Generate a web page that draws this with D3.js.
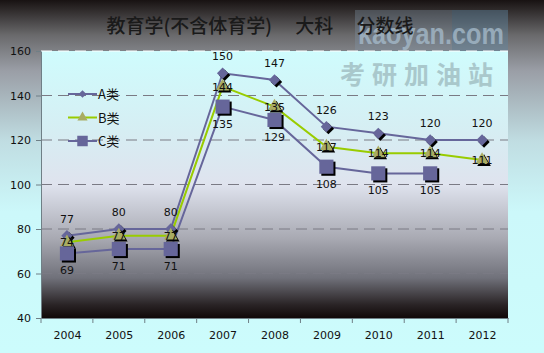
<!DOCTYPE html>
<html>
<head>
<meta charset="utf-8">
<script src="https://cdn.jsdelivr.net/npm/d3@7"></script>
<style>
  body { margin: 0; background: #ccfcfc; }
  svg { display: block; }
</style>
</head>
<body>
<div id="chart"></div>
<script>
// score lines by year
const years = ["2004", "2005", "2006", "2007", "2008", "2009", "2010", "2011", "2012"];
const seriesA = [77, 80, 80, 150, 147, 126, 123, 120, 120];
const seriesB = [74, 77, 77, 144, 135, 117, 114, 114, 111];
const seriesC = [69, 71, 71, 135, 129, 108, 105, 105, null];
const seriesNames = ["A类", "B类", "C类"];
const yTicks = [40, 60, 80, 100, 120, 140, 160];
const titleText = "教育学(不含体育学)\u3000 大科 \u3000分数线";

const W = 544, H = 353;
const plot = { left: 41, right: 508, top: 51, bottom: 318 };

const svg = d3.select("#chart")
  .append("svg")
  .attr("width", W)
  .attr("height", H);

const defs = svg.append("defs");

const bgGrad = defs.append("linearGradient")
  .attr("id", "bg").attr("x1", 0).attr("y1", 0).attr("x2", 0).attr("y2", 1);
[[0, "#181212"], [0.1, "#6a6a6c"], [0.2, "#9a9ea6"], [0.4, "#c0dde2"], [0.6, "#ccf8fa"], [1, "#ccfcfc"]]
  .forEach(s => bgGrad.append("stop").attr("offset", s[0]).attr("stop-color", s[1]));

const plotGrad = defs.append("linearGradient")
  .attr("id", "plotbg").attr("x1", 0).attr("y1", 0).attr("x2", 0).attr("y2", 1);
[[0, "#cffcfd"], [0.3, "#d6eef3"], [0.5, "#dfe3ee"], [0.7, "#a9aab3"], [0.85, "#70717a"], [0.95, "#2a2426"], [1, "#100808"]]
  .forEach(s => plotGrad.append("stop").attr("offset", s[0]).attr("stop-color", s[1]));

svg.append("rect")
  .attr("width", W).attr("height", H)
  .attr("fill", "url(#bg)");

// watermark at the top right
svg.append("rect")
  .attr("x", 355).attr("y", 10).attr("width", 97).attr("height", 42)
  .attr("fill", "#8296a6").attr("opacity", 0.35);
svg.append("rect")
  .attr("x", 452).attr("y", 10).attr("width", 56).attr("height", 42)
  .attr("fill", "#5f86a0").attr("opacity", 0.45);
svg.append("text")
  .attr("x", 358).attr("y", 44)
  .attr("textLength", 146)
  .attr("lengthAdjust", "spacingAndGlyphs")
  .style("font-family", "Liberation Sans, Arial, sans-serif")
  .style("font-size", "30px")
  .style("font-weight", "bold")
  .attr("fill", "#a3b8c8").attr("opacity", 0.8)
  .text("kaoyan.com");

svg.append("rect")
  .attr("x", plot.left).attr("y", plot.top)
  .attr("width", plot.right - plot.left).attr("height", plot.bottom - plot.top)
  .attr("fill", "url(#plotbg)");

svg.append("text")
  .attr("x", 340).attr("y", 84)
  .style("font-family", "Noto Sans CJK SC, sans-serif")
  .style("font-size", "25px")
  .style("font-weight", "bold")
  .style("letter-spacing", "7px")
  .attr("fill", "#a3c0c4").attr("opacity", 0.85)
  .text("考研加油站");

const x = d3.scalePoint()
  .domain(years)
  .range([plot.left, plot.right])
  .padding(0.5);
const xBand = d3.scaleBand()
  .domain(years)
  .range([plot.left, plot.right]);

const y = d3.scaleLinear()
  .domain([40, 160])
  .range([plot.bottom, plot.top]);

// grid
svg.append("g")
  .selectAll("line")
  .data(yTicks.filter(t => t > 40))
  .join("line")
  .attr("x1", plot.left).attr("x2", plot.right)
  .attr("y1", d => y(d)).attr("y2", d => y(d))
  .attr("stroke", d => d === 160 ? "#ffffff" : "#7a7a84")
  .attr("stroke-width", 1)
  .attr("stroke-dasharray", "11,6");

// axes
const yAxis = svg.append("g")
  .attr("transform", `translate(${plot.left},0)`)
  .call(d3.axisLeft(y).tickValues(yTicks).tickSize(5).tickSizeOuter(0).tickPadding(5));
yAxis.select(".domain").attr("stroke", "#6f7f86");
yAxis.selectAll(".tick line").attr("stroke", "#6f7f86");
yAxis.selectAll("text")
  .style("font-family", "DejaVu Sans, sans-serif")
  .style("font-size", "11px")
  .attr("fill", "#111");

const xAxis = svg.append("g")
  .attr("transform", `translate(0,${plot.bottom})`)
  .call(d3.axisBottom(x).tickSize(0).tickPadding(13));
xAxis.select(".domain").attr("stroke", "#6f7f86");
xAxis.selectAll("text")
  .style("font-family", "DejaVu Sans, sans-serif")
  .style("font-size", "11px")
  .attr("fill", "#111");
xAxis.selectAll(".bound")
  .data(years.map(d => xBand(d)).concat([plot.right]))
  .join("line")
  .attr("class", "bound")
  .attr("x1", d => d).attr("x2", d => d)
  .attr("y1", 0).attr("y2", 5)
  .attr("stroke", "#6f7f86");

// title
svg.append("text")
  .attr("x", 260).attr("y", 33)
  .attr("text-anchor", "middle")
  .style("font-family", "Noto Sans CJK SC, sans-serif")
  .style("font-size", "19px")
  .style("font-weight", "500")
  .style("white-space", "pre")
  .attr("fill", "#1a1a1a")
  .text(titleText);

const colors = ["#66669a", "#99cc00", "#66669a"];
const series = [seriesA, seriesB, seriesC];

const line = d3.line()
  .defined(d => d.v != null)
  .x(d => x(d.year))
  .y(d => y(d.v));

const markers = {
  0: d3.symbol().type(d3.symbolSquare).size(64),
  1: d3.symbol().type(d3.symbolTriangle).size(80),
  2: d3.symbol().type(d3.symbolSquare).size(200)
};
const markerRot = [45, 0, 0];
const markerFill = ["#66669a", "#a9ac62", "#66669a"];

series.forEach((vals, i) => {
  const pts = years.map((yr, j) => ({ year: yr, v: vals[j] }));
  svg.append("path")
    .datum(pts)
    .attr("fill", "none")
    .attr("stroke", colors[i])
    .attr("stroke-width", 2)
    .attr("d", line);
});

series.forEach((vals, i) => {
  const pts = years.map((yr, j) => ({ year: yr, v: vals[j] })).filter(d => d.v != null);
  const g = svg.append("g");
  // drop shadow
  g.selectAll(".shadow")
    .data(pts)
    .join("path")
    .attr("class", "shadow")
    .attr("transform", d => `translate(${x(d.year) + 2},${y(d.v) + 2}) rotate(${markerRot[i]})`)
    .attr("d", markers[i])
    .attr("fill", "#000");
  g.selectAll(".mark")
    .data(pts)
    .join("path")
    .attr("class", "mark")
    .attr("transform", d => `translate(${x(d.year)},${y(d.v)}) rotate(${markerRot[i]})`)
    .attr("d", markers[i])
    .attr("fill", markerFill[i]);
});

// value labels
const labelOffset = [-13, 4, 21];
series.forEach((vals, i) => {
  const pts = years.map((yr, j) => ({ year: yr, v: vals[j] })).filter(d => d.v != null);
  svg.append("g")
    .selectAll("text")
    .data(pts)
    .join("text")
    .attr("x", d => x(d.year))
    .attr("y", d => y(d.v) + labelOffset[i])
    .attr("text-anchor", "middle")
    .style("font-family", "DejaVu Sans, sans-serif")
    .style("font-size", "11px")
    .attr("fill", "#111")
    .text(d => d.v);
});

// legend
const legend = svg.append("g");
const legendSym = [
  d3.symbol().type(d3.symbolSquare).size(30),
  d3.symbol().type(d3.symbolTriangle).size(45),
  d3.symbol().type(d3.symbolSquare).size(110)
];
seriesNames.forEach((name, i) => {
  const ly = 94 + i * 23.5;
  legend.append("line")
    .attr("x1", 68).attr("x2", 97)
    .attr("y1", ly).attr("y2", ly)
    .attr("stroke", colors[i]).attr("stroke-width", 2);
  legend.append("path")
    .attr("transform", `translate(82.5,${ly}) rotate(${markerRot[i]})`)
    .attr("d", legendSym[i])
    .attr("fill", markerFill[i]);
  legend.append("text")
    .attr("x", 98).attr("y", ly + 5)
    .style("font-family", "Noto Sans CJK SC, sans-serif")
    .style("font-size", "13px")
    .attr("fill", "#111")
    .text(name);
});
</script>
</body>
</html>
